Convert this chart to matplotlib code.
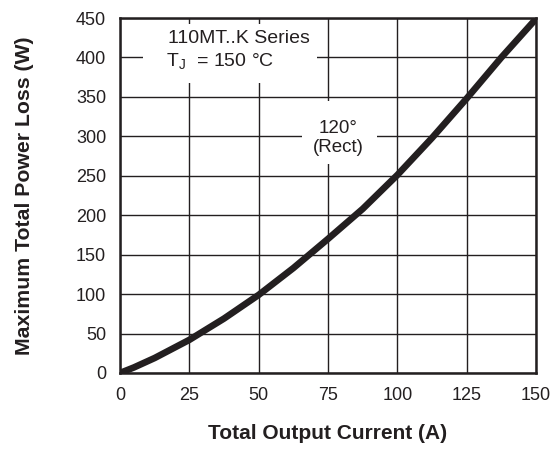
import matplotlib
matplotlib.use("Agg")
import matplotlib.pyplot as plt
from matplotlib.patches import Rectangle

current = [0, 5, 12.5, 25, 37.5, 50, 62.5, 75, 87.5, 100, 112.5, 125, 137.5, 150]
power = [0, 7, 19, 42, 69, 99, 133, 170, 208, 251, 298, 348, 400, 449]
xticks = [0, 25, 50, 75, 100, 125, 150]
yticks = [0, 50, 100, 150, 200, 250, 300, 350, 400, 450]

plt.rcParams['font.family'] = ['Liberation Sans', 'DejaVu Sans']
plt.rcParams['mathtext.fontset'] = 'custom'
plt.rcParams['mathtext.rm'] = 'Liberation Sans'

ink = '#231f20'
fig = plt.figure(figsize=(5.5, 4.49), dpi=100)
ax = fig.add_axes([0.2182, 0.1693, 0.7564, 0.7906])
ax.set_xlim(0, 150)
ax.set_ylim(0, 450)
ax.set_xticks(xticks)
ax.set_yticks(yticks)
ax.grid(True, color=ink, linewidth=1.0)
ax.set_axisbelow(True)
for s in ax.spines.values():
    s.set_linewidth(1.8)
    s.set_color(ink)
    s.set_zorder(5)
ax.tick_params(length=0, labelsize=13, colors=ink)
ax.tick_params(axis='x', pad=10)
ax.tick_params(axis='y', pad=10)
ax.plot(current, power, color=ink, linewidth=4.8, solid_capstyle='butt', zorder=3)

ax.set_xlabel('Total Output Current (A)', fontsize=15, fontweight='bold', color=ink)
ax.set_ylabel('Maximum Total Power Loss (W)', fontsize=15.3, fontweight='bold', color=ink)
ax.xaxis.set_label_coords(0.5, -0.143)
ax.yaxis.set_label_coords(-0.207, 0.5)

# annotation backgrounds (cover the grid like the reference)
ax.add_patch(Rectangle((8.3, 368), 62.7, 74.5, facecolor='white', edgecolor='none', zorder=2))
ax.add_patch(Rectangle((65.6, 265.5), 27.1, 79.5, facecolor='white', edgecolor='none', zorder=2))

ax.text(17.2, 424.5, '110MT..K Series', fontsize=14, ha='left', va='center', color=ink, zorder=4)
ax.text(16.5, 394, 'T$_\\mathregular{J}$  = 150 °C', fontsize=14, ha='left', va='center', color=ink, zorder=4)
ax.text(78.6, 297.5, '120°\n(Rect)', fontsize=13.5, ha='center', va='center',
        linespacing=1.15, color=ink, zorder=4)

fig.savefig('out.png', dpi=100)
